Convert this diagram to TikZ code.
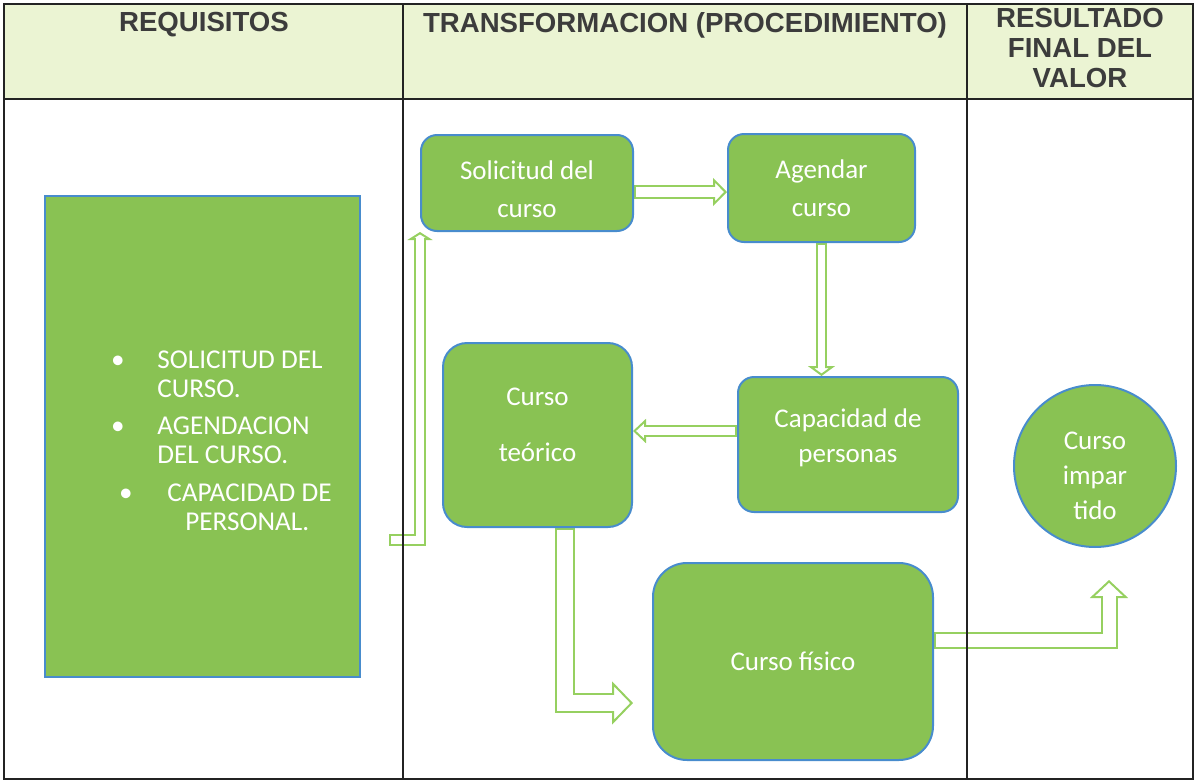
\documentclass[tikz,border=0pt]{standalone}
\usepackage{fontspec}
\setmainfont{Carlito}
\newfontfamily\headfont{Liberation Sans}
\usetikzlibrary{arrows.meta,backgrounds}

\definecolor{boxgreen}{RGB}{137,194,83}
\definecolor{boxblue}{RGB}{72,140,205}
\definecolor{arrowgreen}{RGB}{150,208,96}
\definecolor{headfill}{RGB}{235,244,211}
\definecolor{headtext}{RGB}{60,60,60}
\definecolor{rulecol}{RGB}{35,35,35}

\tikzset{
  procbox/.style={draw=boxblue, line width=1pt, fill=boxgreen, rounded corners=8pt,
    text=white, align=center, inner sep=0pt, font=\fontsize{13.5}{19}\selectfont},
  item/.style={text=white, inner sep=0pt, anchor=base west, font=\fontsize{13.6}{15}\selectfont},
  headtxt/.style={text=headtext, inner sep=0pt, anchor=north, align=center,
    font=\headfont\bfseries\fontsize{13.8}{15}\selectfont},
  hollow/.style n args={3}{line join=miter, draw=white, line width=#1-2pt, shorten <=1pt,
    -{Triangle[color=arrowgreen, fill=white, line width=1pt, width=#2, length=#3]},
    preaction={draw=arrowgreen, line width=#1, shorten <=0pt, shorten >=#3-0.5pt, -},
    postaction={draw=white, line width=#1-2pt, shorten >=#3-1.5pt, -}}
}

\begin{document}
\begin{tikzpicture}[x=0.5pt, y=-0.5pt]
  \useasboundingbox (0,0) rectangle (1196,782);
  % table and header row
  \fill[headfill] (4,4) rectangle (1193,99);
  \draw[rulecol, line width=0.8pt] (4,4) rectangle (1193,779);
  \draw[rulecol, line width=0.8pt] (4,99) -- (1193,99) (403,4) -- (403,779) (967,4) -- (967,779);
  \node[headtxt] (h1) at (204,12) {REQUISITOS};
  \node[headtxt] (h2) at (685,12) {TRANSFORMACION (PROCEDIMIENTO)};
  \node[headtxt] (h3) at (1080,8) {RESULTADO\\FINAL DEL\\VALOR};

  % requisitos
  \node[procbox, sharp corners, minimum width=157.5pt, minimum height=240.5pt] (req) at (202.5,436.5) {};
  \node[item, anchor=base] (d1) at (118,368) {\textbullet};
  \node[item] (r1) at (157,368) {SOLICITUD DEL};
  \node[item] (r2) at (157,397) {CURSO.};
  \node[item, anchor=base] (d2) at (118,434) {\textbullet};
  \node[item] (r3) at (157,434) {AGENDACION};
  \node[item] (r4) at (157,463) {DEL CURSO.};
  \node[item, anchor=base] (d3) at (126,501) {\textbullet};
  \node[item] (r5) at (167,501) {CAPACIDAD DE};
  \node[item] (r6) at (185,530) {PERSONAL.};

  % procedimiento
  \node[procbox, minimum width=106pt, minimum height=48pt] (sol) at (527,183) {\rule{0pt}{15.5pt}Solicitud del\\curso};
  \node[procbox, minimum width=93.5pt, minimum height=54pt] (ag) at (821.5,188) {Agendar\\curso};
  \node[procbox, minimum width=110pt, minimum height=67.5pt, font=\fontsize{13.5}{17.5}\selectfont] (cap) at (848,444.5) {Capacidad de\\personas\rule[-8.5pt]{0pt}{0pt}};
  \node[procbox, rounded corners=12pt, minimum width=94.5pt, minimum height=92pt, font=\fontsize{13.5}{28}\selectfont] (teo) at (537.5,435) {Curso\\teórico\rule[-10pt]{0pt}{0pt}};
  \node[procbox, rounded corners=17pt, minimum width=140pt, minimum height=98.5pt] (fis) at (793,661.5) {Curso físico};

  % resultado
  \node[procbox, sharp corners, circle, minimum size=81pt, font=\fontsize{13.5}{17.5}\selectfont] (imp) at (1095,466) {\rule{0pt}{18.5pt}Curso\\impar\\tido};

  \begin{scope}[on background layer]
    % requisitos to solicitud
    \coordinate (a1) at (389,540);
    \draw[hollow={6pt}{12.5pt}{4pt}] (a1) -| (sol.south west);
    % solicitud to agendar
    \draw[hollow={7pt}{14pt}{7pt}] ([yshift=-4.5pt]sol.east) coordinate (s2) -- (s2 -| ag.west);
    % agendar to capacidad
    \draw[hollow={5.5pt}{13.5pt}{5pt}] (ag.south) -- (ag.south |- cap.north);
    % capacidad to teorico
    \draw[hollow={6pt}{12pt}{6.5pt}] ([yshift=6.75pt]cap.west) coordinate (s4) -- (s4 -| teo.east);
    % teorico to fisico
    \draw[hollow={10pt}{21.5pt}{10.5pt}] ([xshift=13.75pt]teo.south) |- ([xshift=-9.5pt,yshift=-20.75pt]fis.west);
    % fisico to impartido
    \draw[hollow={8.5pt}{19pt}{9pt}] ([yshift=10.5pt]fis.east) -| ([xshift=7pt,yshift=-16pt]imp.south);
  \end{scope}
\end{tikzpicture}
\end{document}
